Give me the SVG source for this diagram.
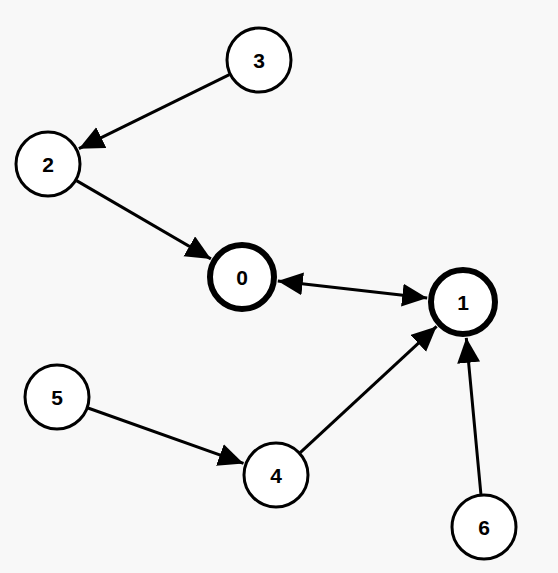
<svg xmlns="http://www.w3.org/2000/svg" width="558" height="573" viewBox="0 0 558 573">
<style>
.n circle{fill:#fff;stroke:#000;stroke-width:3}
.n.t circle{stroke-width:6}
.n text{font-family:"Liberation Sans",Arial,sans-serif;font-weight:bold;font-size:21px;text-anchor:middle;dominant-baseline:central;fill:#000}
.e line{stroke:#000;stroke-width:3}
</style>
<defs>
<marker id="a" markerUnits="userSpaceOnUse" markerWidth="26" markerHeight="24" refX="25" refY="11.5" orient="auto-start-reverse" viewBox="0 0 26 24">
<path d="M0,0 L25,11.5 L0,23 z" fill="#000"/>
</marker>
</defs>
<rect width="558" height="573" fill="#f8f8f8"/>
<g id="edges" class="e">
<line x1="229.4" y1="74.6" x2="78.9" y2="148.7" marker-end="url(#a)"/>
<line x1="76.5" y1="180.6" x2="210.9" y2="258.9" marker-end="url(#a)"/>
<line x1="277.8" y1="281" x2="427.2" y2="298" marker-start="url(#a)" marker-end="url(#a)"/>
<line x1="88" y1="408" x2="243.5" y2="463.4" marker-end="url(#a)"/>
<line x1="300.2" y1="452.6" x2="436.6" y2="326.4" marker-end="url(#a)"/>
<line x1="480.9" y1="494.1" x2="466.3" y2="337.8" marker-end="url(#a)"/>
</g>
<g id="node0" class="n t"><circle cx="242" cy="277" r="32"/><text x="242" y="277">0</text></g>
<g id="node1" class="n t"><circle cx="463" cy="302" r="32"/><text x="463" y="302">1</text></g>
<g id="node2" class="n"><circle cx="48" cy="164" r="32"/><text x="48" y="164">2</text></g>
<g id="node3" class="n"><circle cx="259" cy="60" r="32"/><text x="259" y="60">3</text></g>
<g id="node4" class="n"><circle cx="276" cy="475" r="32"/><text x="276" y="475">4</text></g>
<g id="node5" class="n"><circle cx="57" cy="397" r="32"/><text x="57" y="397">5</text></g>
<g id="node6" class="n"><circle cx="484" cy="527" r="32"/><text x="484" y="527">6</text></g>
</svg>
